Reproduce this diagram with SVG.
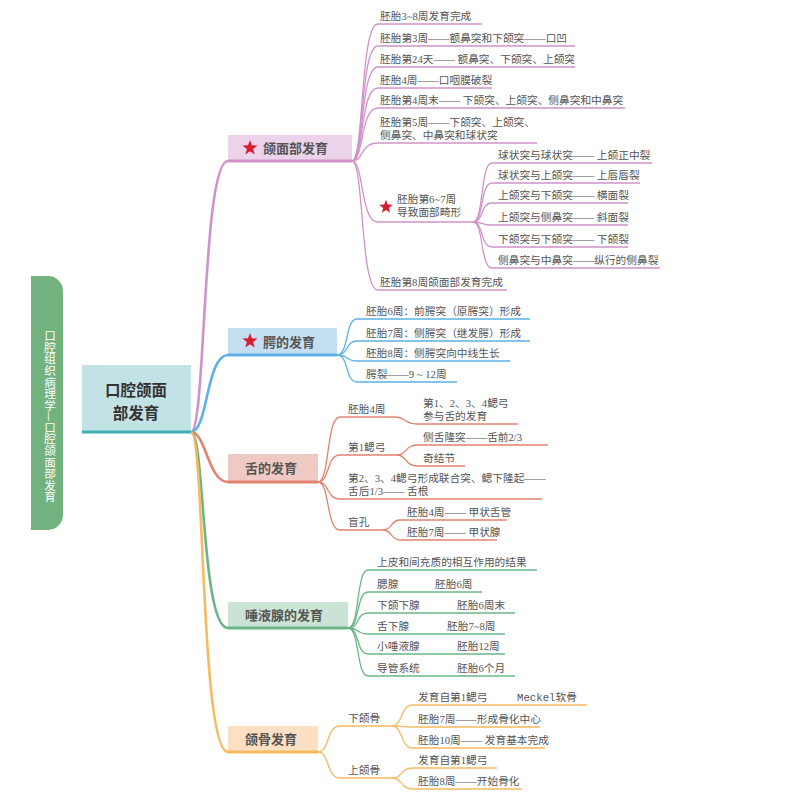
<svg xmlns="http://www.w3.org/2000/svg" xmlns:xlink="http://www.w3.org/1999/xlink" width="800" height="800" viewBox="0 0 800 800">
<defs>
<polygon id="star" points="0,-8 1.94,-2.67 7.61,-2.47 3.14,1.02 4.70,6.47 0,3.3 -4.70,6.47 -3.14,1.02 -7.61,-2.47 -1.94,-2.67" fill="#d71f2f"/>
<style>
.t{font-family:"Liberation Serif","Noto Sans CJK SC",serif;font-size:10.7px;fill:#555}
.m{font-family:"Noto Sans CJK SC",sans-serif;font-size:13px;font-weight:bold;fill:#555}
.r{font-family:"Noto Sans CJK SC",sans-serif;font-size:15.5px;font-weight:bold;fill:#333}
.c{fill:none;stroke-width:1.3}
.mc{fill:none;stroke-width:2.6}
.pu{stroke:#cf93ca}.bl{stroke:#5eb1e4}.sa{stroke:#e2826f}.gr{stroke:#6db588}.or{stroke:#f5bb60}
</style>
</defs>
<rect width="800" height="800" fill="#ffffff"/>

<g id="sidebar">
<path d="M31,276 H48 A15,15 0 0 1 63,291 V515 A15,15 0 0 1 48,530 H31 Z" fill="#72b27f"/>
<text x="50" y="330" style="writing-mode:vertical-rl;font-family:'Noto Sans CJK SC',sans-serif;font-size:11.6px;fill:#ffffff">口腔组织病理学—口腔颌面部发育</text>
</g>

<g id="connectors">
<path class="mc pu" d="M191,432 C206,432 202,161 228,161"/>
<path class="mc bl" d="M191,432 C208,432 206,355 228,355"/>
<path class="mc sa" d="M191,432 C206,432 208,482 228,482"/>
<path class="mc gr" d="M191,432 C205,432 201,628 228,628"/>
<path class="mc or" d="M191,432 C205,432 200,752 228,752"/>

<path class="c pu" d="M352,161 C364,161 360,24 378,24 H482"/>
<path class="c pu" d="M352,161 C364,161 360,46 378,46 H575"/>
<path class="c pu" d="M352,161 C364,161 360,67 378,67 H575"/>
<path class="c pu" d="M352,161 C364,161 360,88 378,88 H492"/>
<path class="c pu" d="M352,161 C364,161 360,108 378,108 H625"/>
<path class="c pu" d="M352,161 C364,161 360,143 378,143 H537"/>
<path class="c pu" d="M352,161 C364,161 360,222 378,222 H473"/>
<path class="c pu" d="M352,161 C364,161 360,290 378,290 H507"/>
<path class="c pu" d="M473,222 C484,222 480,163 492,163 H652"/>
<path class="c pu" d="M473,222 C484,222 480,183 492,183 H640"/>
<path class="c pu" d="M473,222 C484,222 480,203 492,203 H628"/>
<path class="c pu" d="M473,222 C484,222 480,225 492,225 H628"/>
<path class="c pu" d="M473,222 C484,222 480,247 492,247 H628"/>
<path class="c pu" d="M473,222 C484,222 480,268 492,268 H660"/>

<path class="c bl" d="M337,355 C349,355 345,319 357,319 H530"/>
<path class="c bl" d="M337,355 C349,355 345,341 357,341 H530"/>
<path class="c bl" d="M337,355 C349,355 345,361 357,361 H510"/>
<path class="c bl" d="M337,355 C349,355 345,382 357,382 H457"/>

<path class="c sa" d="M318,482 C330,482 326,417 340,417 H395"/>
<path class="c sa" d="M318,482 C330,482 326,455 340,455 H397"/>
<path class="c sa" d="M318,482 C330,482 326,499 340,499 H542"/>
<path class="c sa" d="M318,482 C330,482 326,530 340,530 H383"/>
<path class="c sa" d="M395,417 C406,417 404,424 417,424 H518"/>
<path class="c sa" d="M397,455 C407,455 405,445 417,445 H548"/>
<path class="c sa" d="M397,455 C407,455 405,466 417,466 H465"/>
<path class="c sa" d="M383,530 C393,530 390,520 400,520 H507"/>
<path class="c sa" d="M383,530 C393,530 390,540 400,540 H497"/>

<path class="c gr" d="M348,628 C360,628 356,570 368,570 H537"/>
<path class="c gr" d="M348,628 C360,628 356,592 368,592 H482"/>
<path class="c gr" d="M348,628 C360,628 356,613 368,613 H515"/>
<path class="c gr" d="M348,628 C360,628 356,634 368,634 H505"/>
<path class="c gr" d="M348,628 C360,628 356,654 368,654 H505"/>
<path class="c gr" d="M348,628 C360,628 356,676 368,676 H515"/>

<path class="c or" d="M318,752 C330,752 326,726 340,726 H392"/>
<path class="c or" d="M318,752 C330,752 326,778 340,778 H392"/>
<path class="c or" d="M392,726 C403,726 400,705 413,705 H587"/>
<path class="c or" d="M392,726 C403,726 400,727 413,727 H540"/>
<path class="c or" d="M392,726 C403,726 400,748 413,748 H545"/>
<path class="c or" d="M392,778 C403,778 400,768 413,768 H497"/>
<path class="c or" d="M392,778 C403,778 400,789 413,789 H522"/>
</g>

<g id="root">
<rect x="82" y="365" width="109" height="67" fill="#c3e2e5"/>
<line x1="82" y1="432" x2="191" y2="432" stroke="#3fb0b6" stroke-width="3"/>
<text class="r" x="136" y="396" text-anchor="middle">口腔颌面</text>
<text class="r" x="136" y="419" text-anchor="middle">部发育</text>
</g>

<g id="face">
<rect x="228" y="135" width="124" height="26" fill="#ecd3ea"/>
<line x1="228" y1="161" x2="352" y2="161" stroke="#cf93ca" stroke-width="3"/>
<use xlink:href="#star" href="#star" transform="translate(250,148)"/>
<text class="m" x="263" y="153">颌面部发育</text>
<text class="t" x="380" y="20">胚胎3~8周发育完成</text>
<text class="t" x="380" y="42">胚胎第3周——额鼻突和下颌突——口凹</text>
<text class="t" x="380" y="63">胚胎第24天—— 额鼻突、下颌突、上颌突</text>
<text class="t" x="380" y="84">胚胎4周——口咽膜破裂</text>
<text class="t" x="380" y="104">胚胎第4周末—— 下颌突、上颌突、侧鼻突和中鼻突</text>
<text class="t" x="380" y="126">胚胎第5周——下颌突、上颌突、</text>
<text class="t" x="380" y="139">侧鼻突、中鼻突和球状突</text>
<use xlink:href="#star" href="#star" transform="translate(386,207) scale(0.9)"/>
<text class="t" x="397" y="203">胚胎第6~7周</text>
<text class="t" x="397" y="216">导致面部畸形</text>
<text class="t" x="498" y="159">球状突与球状突—— 上颌正中裂</text>
<text class="t" x="498" y="179">球状突与上颌突—— 上唇唇裂</text>
<text class="t" x="498" y="199">上颌突与下颌突—— 横面裂</text>
<text class="t" x="498" y="221">上颌突与侧鼻突—— 斜面裂</text>
<text class="t" x="498" y="243">下颌突与下颌突—— 下颌裂</text>
<text class="t" x="498" y="264">侧鼻突与中鼻突——纵行的侧鼻裂</text>
<text class="t" x="380" y="286">胚胎第8周颌面部发育完成</text>
</g>

<g id="palate">
<rect x="228" y="328" width="109" height="27" fill="#c4dff2"/>
<line x1="228" y1="355" x2="337" y2="355" stroke="#5eb1e4" stroke-width="3"/>
<use xlink:href="#star" href="#star" transform="translate(250,341)"/>
<text class="m" x="263" y="347">腭的发育</text>
<text class="t" x="366" y="315">胚胎6周：前腭突（原腭突）形成</text>
<text class="t" x="366" y="337">胚胎7周：侧腭突（继发腭）形成</text>
<text class="t" x="366" y="357">胚胎8周：侧腭突向中线生长</text>
<text class="t" x="366" y="378">腭裂——9 ~ 12周</text>
</g>

<g id="tongue">
<rect x="228" y="454" width="90" height="28" fill="#efcac4"/>
<line x1="228" y1="482" x2="318" y2="482" stroke="#e2826f" stroke-width="3"/>
<text class="m" x="271" y="473" text-anchor="middle">舌的发育</text>
<text class="t" x="348" y="413">胚胎4周</text>
<text class="t" x="423" y="407">第1、2、3、4鳃弓</text>
<text class="t" x="423" y="420">参与舌的发育</text>
<text class="t" x="348" y="451">第1鳃弓</text>
<text class="t" x="423" y="441">侧舌隆突——舌前2/3</text>
<text class="t" x="423" y="462">奇结节</text>
<text class="t" x="348" y="482">第2、3、4鳃弓形成联合突、鳃下隆起——</text>
<text class="t" x="348" y="495">舌后1/3—— 舌根</text>
<text class="t" x="348" y="526">盲孔</text>
<text class="t" x="407" y="516">胚胎4周—— 甲状舌管</text>
<text class="t" x="407" y="536">胚胎7周—— 甲状腺</text>
</g>

<g id="salivary">
<rect x="228" y="602" width="120" height="26" fill="#cbe3d4"/>
<line x1="228" y1="628" x2="348" y2="628" stroke="#6db588" stroke-width="3"/>
<text class="m" x="284" y="620" text-anchor="middle">唾液腺的发育</text>
<text class="t" x="377" y="566">上皮和间充质的相互作用的结果</text>
<text class="t" x="377" y="588">腮腺</text><text class="t" x="435" y="588">胚胎6周</text>
<text class="t" x="377" y="609">下颌下腺</text><text class="t" x="457" y="609">胚胎6周末</text>
<text class="t" x="377" y="630">舌下腺</text><text class="t" x="447" y="630">胚胎7~8周</text>
<text class="t" x="377" y="650">小唾液腺</text><text class="t" x="457" y="650">胚胎12周</text>
<text class="t" x="377" y="672">导管系统</text><text class="t" x="457" y="672">胚胎6个月</text>
</g>

<g id="jaw">
<rect x="228" y="726" width="90" height="26" fill="#fde0c4"/>
<line x1="228" y1="752" x2="318" y2="752" stroke="#f5bb60" stroke-width="3"/>
<text class="m" x="271" y="744" text-anchor="middle">颌骨发育</text>
<text class="t" x="348" y="722">下颌骨</text>
<text class="t" x="418" y="701">发育自第1鳃弓</text>
<text class="t" x="517" y="701"><tspan style="font-family:'Liberation Mono',monospace">Meckel</tspan>软骨</text>
<text class="t" x="418" y="723">胚胎7周——形成骨化中心</text>
<text class="t" x="418" y="744">胚胎10周—— 发育基本完成</text>
<text class="t" x="348" y="774">上颌骨</text>
<text class="t" x="418" y="764">发育自第1鳃弓</text>
<text class="t" x="418" y="785">胚胎8周——开始骨化</text>
</g>
</svg>
